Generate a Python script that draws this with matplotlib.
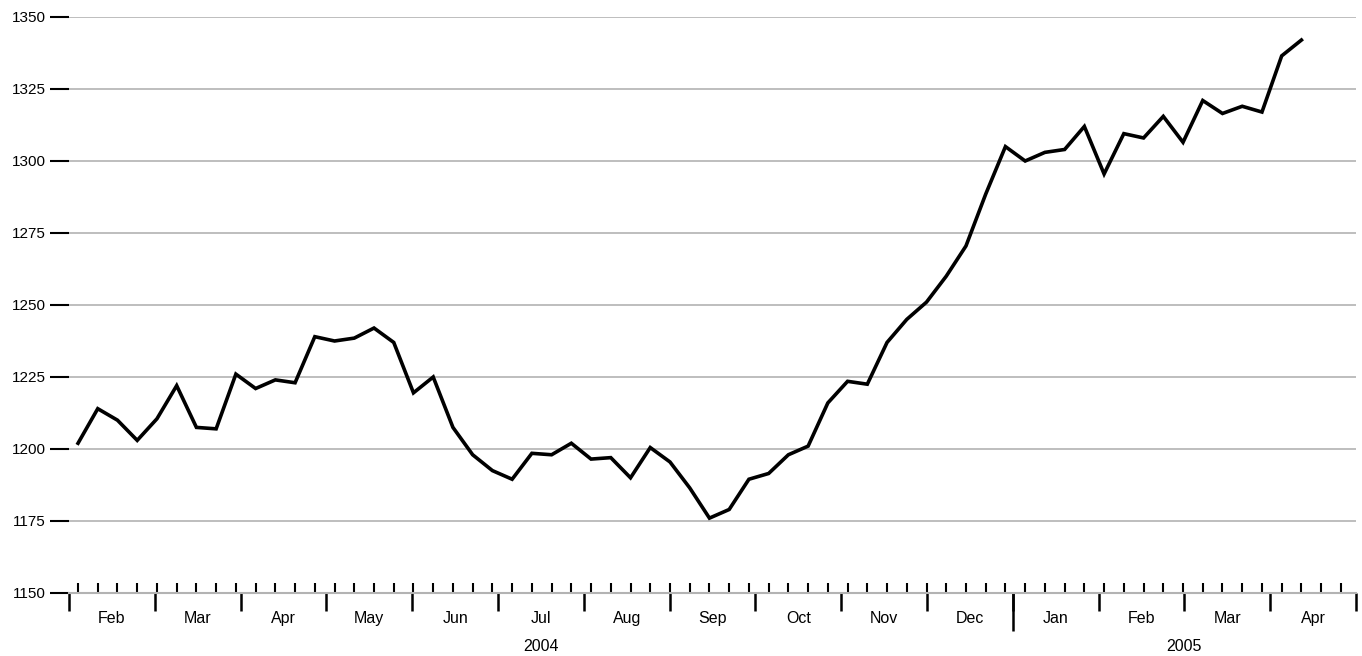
import matplotlib
matplotlib.use("Agg")
import matplotlib.pyplot as plt
import matplotlib.transforms as mtrans
import numpy as np

plt.rcParams['font.family'] = ['Liberation Sans', 'DejaVu Sans']

# weekly closes from early Feb 2004 (x in days since 1 Feb 2004)
first_day = 3.2
values = [1202, 1214, 1210, 1203, 1210.5, 1222, 1207.5, 1207, 1226, 1221,
          1224, 1223, 1239, 1237.5, 1238.5, 1242, 1237, 1219.5, 1225, 1207.5,
          1198, 1192.5, 1189.5, 1198.5, 1198, 1202, 1196.5, 1197, 1190, 1200.5,
          1195.5, 1186.5, 1176, 1179, 1189.5, 1191.5, 1198, 1201, 1216, 1223.5,
          1222.5, 1237, 1245, 1251, 1260, 1270.5, 1288.5, 1305, 1300, 1303,
          1304, 1312, 1295.5, 1309.5, 1308, 1315.5, 1306.5, 1321, 1316.5, 1319,
          1317, 1336.5, 1342]
months = ['Feb', 'Mar', 'Apr', 'May', 'Jun', 'Jul', 'Aug', 'Sep', 'Oct', 'Nov',
          'Dec', 'Jan', 'Feb', 'Mar', 'Apr']
years = [('2004', 0, 11), ('2005', 11, 15)]  # label, first month idx, end idx
yticks = [1150, 1175, 1200, 1225, 1250, 1275, 1300, 1325, 1350]

month_len = 365.25 / 12
x = first_day + 7 * np.arange(len(values))
bounds = month_len * np.arange(len(months) + 1)
weeks = np.arange(first_day, bounds[-1], 7)

fig = plt.figure(figsize=(13.62, 6.56), dpi=100)
ax = fig.add_axes([69 / 1362, 1 - 593 / 656, 1287 / 1362, 576 / 656])
ax.plot(x, values, color='black', lw=2.6, solid_joinstyle='miter')

ax.set_xlim(bounds[0], bounds[-1])
ax.set_ylim(1150, 1350)
ax.set_yticks(yticks)
ax.yaxis.grid(True, color='#b3b3b3', lw=1.2)
ax.set_axisbelow(True)
for s in ['left', 'right', 'top']:
    ax.spines[s].set_visible(False)
ax.spines['bottom'].set_color('#b3b3b3')
ax.spines['bottom'].set_linewidth(1.5)
ax.tick_params(axis='y', length=14, width=1.5, labelsize=11, pad=3)

ax.set_xticks(bounds)
ax.set_xticklabels([])
ax.tick_params(axis='x', which='major', direction='out', length=13, width=1.8)
ax.set_xticks(weeks, minor=True)
ax.tick_params(axis='x', which='minor', direction='in', length=7.5, width=1.5)

sec = ax.secondary_xaxis('bottom')
sec.set_xticks([bounds[11]])
sec.set_xticklabels([])
sec.tick_params(length=27, width=1.8)
sec.spines['bottom'].set_visible(False)

tr = mtrans.blended_transform_factory(ax.transData, ax.transAxes)
for i, m in enumerate(months):
    ax.text((bounds[i] + bounds[i + 1]) / 2, -0.045, m, transform=tr,
            ha='center', va='center', fontsize=11.5)
for lbl, a, b in years:
    ax.text((bounds[a] + bounds[b]) / 2, -0.093, lbl, transform=tr,
            ha='center', va='center', fontsize=11.5)

fig.savefig('out.png', dpi=100)
